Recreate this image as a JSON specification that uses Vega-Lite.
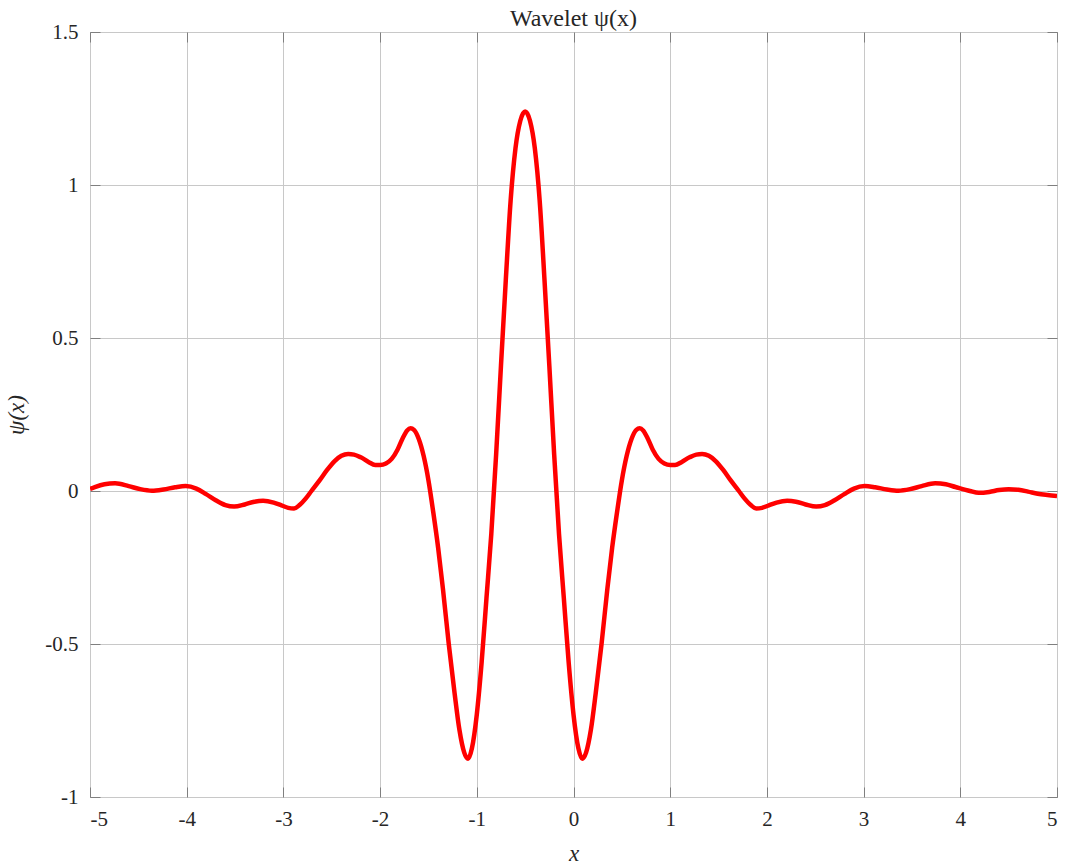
{
  "$schema": "https://vega.github.io/schema/vega-lite/v6.json",
  "autosize": "none",
  "width": 967,
  "height": 765,
  "padding": {"left": 90, "top": 32, "right": 9, "bottom": 70},
  "background": "white",
  "config": {
    "view": {"stroke": "#7f7f7f", "strokeWidth": 1},
    "font": "Liberation Serif",
    "axis": {
      "labelFont": "Liberation Serif",
      "titleFont": "Liberation Serif",
      "labelFontSize": 21,
      "titleFontSize": 23,
      "labelColor": "#262626",
      "titleColor": "#262626",
      "domainColor": "#7f7f7f",
      "tickColor": "#7f7f7f",
      "gridColor": "#c8c8c8",
      "titleFontWeight": "normal"
    }
  },
  "title": {
    "text": "Wavelet ψ(x)",
    "font": "Liberation Serif",
    "fontSize": 24,
    "fontWeight": "normal",
    "color": "#262626",
    "offset": -10
  },
  "data": {
    "values": [
      {"x": -5.00, "y": 0.007}, {"x": -4.95, "y": 0.013}, {"x": -4.85, "y": 0.022}, {"x": -4.74, "y": 0.025},
      {"x": -4.60, "y": 0.016}, {"x": -4.48, "y": 0.006}, {"x": -4.36, "y": 0.001}, {"x": -4.24, "y": 0.005},
      {"x": -4.12, "y": 0.012}, {"x": -4.01, "y": 0.016}, {"x": -3.90, "y": 0.008}, {"x": -3.80, "y": -0.010},
      {"x": -3.70, "y": -0.030}, {"x": -3.60, "y": -0.046}, {"x": -3.51, "y": -0.051}, {"x": -3.40, "y": -0.044},
      {"x": -3.30, "y": -0.035}, {"x": -3.21, "y": -0.032}, {"x": -3.10, "y": -0.038}, {"x": -3.02, "y": -0.047},
      {"x": -2.95, "y": -0.055}, {"x": -2.89, "y": -0.057}, {"x": -2.83, "y": -0.045}, {"x": -2.77, "y": -0.025},
      {"x": -2.71, "y": 0.000}, {"x": -2.62, "y": 0.037}, {"x": -2.55, "y": 0.068}, {"x": -2.47, "y": 0.098},
      {"x": -2.40, "y": 0.115}, {"x": -2.33, "y": 0.121}, {"x": -2.27, "y": 0.119}, {"x": -2.20, "y": 0.110},
      {"x": -2.12, "y": 0.095}, {"x": -2.05, "y": 0.085}, {"x": -2.00, "y": 0.085}, {"x": -1.94, "y": 0.090},
      {"x": -1.88, "y": 0.105}, {"x": -1.82, "y": 0.135}, {"x": -1.77, "y": 0.170}, {"x": -1.72, "y": 0.198},
      {"x": -1.685, "y": 0.205}, {"x": -1.65, "y": 0.200}, {"x": -1.60, "y": 0.170}, {"x": -1.55, "y": 0.115},
      {"x": -1.50, "y": 0.035}, {"x": -1.45, "y": -0.070}, {"x": -1.40, "y": -0.185}, {"x": -1.35, "y": -0.320},
      {"x": -1.29, "y": -0.500}, {"x": -1.23, "y": -0.660}, {"x": -1.18, "y": -0.780}, {"x": -1.13, "y": -0.855},
      {"x": -1.09, "y": -0.875}, {"x": -1.05, "y": -0.840}, {"x": -1.00, "y": -0.730}, {"x": -0.95, "y": -0.560},
      {"x": -0.90, "y": -0.350}, {"x": -0.85, "y": -0.140}, {"x": -0.80, "y": 0.120}, {"x": -0.75, "y": 0.410},
      {"x": -0.70, "y": 0.690}, {"x": -0.65, "y": 0.950}, {"x": -0.60, "y": 1.120}, {"x": -0.55, "y": 1.210},
      {"x": -0.50, "y": 1.240},
      {"x": -0.45, "y": 1.210}, {"x": -0.40, "y": 1.120}, {"x": -0.35, "y": 0.950}, {"x": -0.30, "y": 0.690},
      {"x": -0.25, "y": 0.410}, {"x": -0.20, "y": 0.120}, {"x": -0.15, "y": -0.140}, {"x": -0.10, "y": -0.350},
      {"x": -0.05, "y": -0.560}, {"x": 0.00, "y": -0.730}, {"x": 0.05, "y": -0.840}, {"x": 0.09, "y": -0.875},
      {"x": 0.13, "y": -0.855}, {"x": 0.18, "y": -0.780}, {"x": 0.23, "y": -0.660}, {"x": 0.29, "y": -0.500},
      {"x": 0.35, "y": -0.320}, {"x": 0.40, "y": -0.185}, {"x": 0.45, "y": -0.070}, {"x": 0.50, "y": 0.035},
      {"x": 0.55, "y": 0.115}, {"x": 0.60, "y": 0.170}, {"x": 0.65, "y": 0.200}, {"x": 0.685, "y": 0.205},
      {"x": 0.72, "y": 0.198}, {"x": 0.77, "y": 0.170}, {"x": 0.82, "y": 0.135}, {"x": 0.88, "y": 0.105},
      {"x": 0.94, "y": 0.090}, {"x": 1.00, "y": 0.085}, {"x": 1.05, "y": 0.085}, {"x": 1.12, "y": 0.095},
      {"x": 1.20, "y": 0.110}, {"x": 1.27, "y": 0.119}, {"x": 1.33, "y": 0.121}, {"x": 1.40, "y": 0.115},
      {"x": 1.47, "y": 0.098}, {"x": 1.55, "y": 0.068}, {"x": 1.62, "y": 0.037}, {"x": 1.71, "y": 0.000},
      {"x": 1.77, "y": -0.025}, {"x": 1.83, "y": -0.045}, {"x": 1.89, "y": -0.057}, {"x": 1.95, "y": -0.055},
      {"x": 2.02, "y": -0.047}, {"x": 2.10, "y": -0.038}, {"x": 2.21, "y": -0.032}, {"x": 2.30, "y": -0.035},
      {"x": 2.40, "y": -0.044}, {"x": 2.51, "y": -0.051}, {"x": 2.60, "y": -0.046}, {"x": 2.70, "y": -0.030},
      {"x": 2.80, "y": -0.010}, {"x": 2.90, "y": 0.008}, {"x": 3.01, "y": 0.016}, {"x": 3.12, "y": 0.012},
      {"x": 3.24, "y": 0.005}, {"x": 3.36, "y": 0.001}, {"x": 3.48, "y": 0.006}, {"x": 3.60, "y": 0.016},
      {"x": 3.74, "y": 0.025}, {"x": 3.85, "y": 0.022}, {"x": 3.95, "y": 0.013}, {"x": 4.10, "y": 0.000},
      {"x": 4.19, "y": -0.006}, {"x": 4.30, "y": -0.003}, {"x": 4.40, "y": 0.003}, {"x": 4.50, "y": 0.006},
      {"x": 4.60, "y": 0.004}, {"x": 4.70, "y": -0.002}, {"x": 4.80, "y": -0.009}, {"x": 4.90, "y": -0.013},
      {"x": 5.00, "y": -0.016}
    ]
  },
  "layer": [
    {
      "mark": {"type": "line", "color": "#ff0000", "strokeWidth": 4.5, "interpolate": "monotone", "clip": true},
      "encoding": {
        "x": {
          "field": "x", "type": "quantitative",
          "scale": {"domain": [-5, 5], "nice": false, "zero": false},
          "axis": {
            "orient": "bottom", "title": "x", "titleFontStyle": "italic",
            "labelFont": "Liberation Serif", "titleFont": "Liberation Serif",
            "values": [-5, -4, -3, -2, -1, 0, 1, 2, 3, 4, 5],
            "labelExpr": "toString(datum.value)",
            "grid": true, "domain": false,
            "tickSize": -10, "labelPadding": 21, "titlePadding": 13
          }
        },
        "y": {
          "field": "y", "type": "quantitative",
          "scale": {"domain": [-1, 1.5], "nice": false, "zero": false},
          "axis": {
            "orient": "left", "title": "ψ(x)", "titleFontStyle": "italic",
            "labelFont": "Liberation Serif", "titleFont": "Liberation Serif",
            "values": [-1, -0.5, 0, 0.5, 1, 1.5],
            "labelExpr": "toString(datum.value)",
            "grid": true, "domain": false,
            "tickSize": -10, "labelPadding": 22, "titlePadding": 16
          }
        }
      }
    },
    {
      "mark": {"type": "line", "opacity": 0},
      "encoding": {
        "x": {
          "field": "x", "type": "quantitative",
          "scale": {"domain": [-5, 5], "nice": false, "zero": false},
          "axis": {
            "orient": "top", "title": null, "labels": false,
            "values": [-5, -4, -3, -2, -1, 0, 1, 2, 3, 4, 5],
            "grid": false, "domain": false, "tickSize": -10
          }
        },
        "y": {
          "field": "y", "type": "quantitative",
          "scale": {"domain": [-1, 1.5], "nice": false, "zero": false},
          "axis": {
            "orient": "right", "title": null, "labels": false,
            "values": [-1, -0.5, 0, 0.5, 1, 1.5],
            "grid": false, "domain": false, "tickSize": -10
          }
        }
      }
    }
  ],
  "resolve": {"axis": {"x": "independent", "y": "independent"}}
}
